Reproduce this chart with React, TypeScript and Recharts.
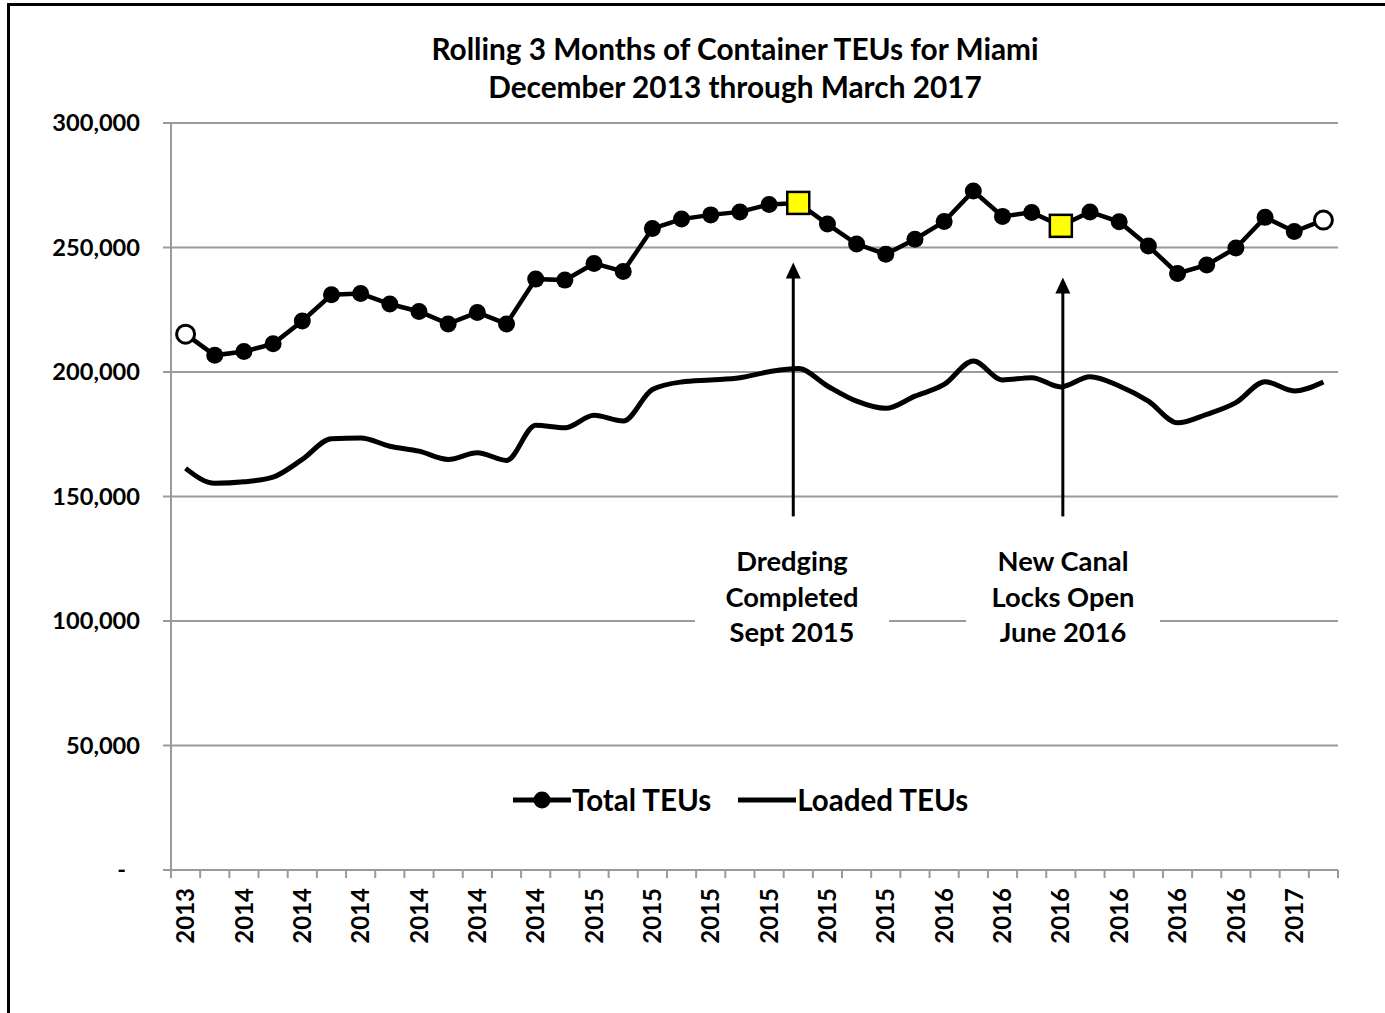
import { LineChart, Line, XAxis, YAxis, CartesianGrid, Legend, ReferenceLine } from "recharts";

// rolling 3-month periods, Dec 2013 .. Mar 2017
const months = [
  "Dec 2013", "Jan 2014", "Feb 2014", "Mar 2014", "Apr 2014", "May 2014", "Jun 2014", "Jul 2014",
  "Aug 2014", "Sep 2014", "Oct 2014", "Nov 2014", "Dec 2014", "Jan 2015", "Feb 2015", "Mar 2015",
  "Apr 2015", "May 2015", "Jun 2015", "Jul 2015", "Aug 2015", "Sep 2015", "Oct 2015", "Nov 2015",
  "Dec 2015", "Jan 2016", "Feb 2016", "Mar 2016", "Apr 2016", "May 2016", "Jun 2016", "Jul 2016",
  "Aug 2016", "Sep 2016", "Oct 2016", "Nov 2016", "Dec 2016", "Jan 2017", "Feb 2017", "Mar 2017",
];

const totalTeus = [
  215200, 206700, 208200, 211300, 220500, 231000, 231500, 227300,
  224300, 219300, 223900, 219300, 237300, 236900, 243600, 240400,
  257600, 261400, 263100, 264300, 267300, 267900, 259400, 251400,
  247300, 253300, 260400, 272700, 262500, 264100, 258700, 264300,
  260300, 250600, 239600, 243000, 249800, 262100, 256400, 261000,
];

const loadedTeus = [
  161300, 155300, 155900, 157800, 164900, 173200, 173500, 170200,
  168200, 164900, 167600, 164500, 178600, 177600, 182600, 180300,
  193000, 196000, 196800, 197700, 200100, 201400, 194400, 188300,
  185400, 190300, 195000, 204400, 196800, 197700, 194000, 198100,
  194400, 188300, 179600, 183000, 187700, 196100, 192400, 196000,
];

const yTicks = [0, 50000, 100000, 150000, 200000, 250000, 300000];

// marker highlights (indices into months)
const openMarkers = [0, 39];
const squareMarkers = [21, 30];

// annotation arrows
const arrowMonths = ["Sep 2015", "Jun 2016"];
const arrowBase = 142000;
const arrowTips = [244000, 238000];

const data = months.map((m, i) => ({ month: m, total: totalTeus[i], loaded: loadedTeus[i] }));

const FONT = "Lato, 'Open Sans', sans-serif";
const GRID = "#9a9a9a";
const BAND = (1338 - 171) / months.length;

function XTick(props: any) {
  const { x, y, payload, index } = props;
  const axisY = y - 18;
  const left = x - BAND / 2;
  return (
    <g>
      <line x1={left} x2={left} y1={axisY} y2={axisY + 8} stroke={GRID} strokeWidth={2} />
      {index === months.length - 1 && (
        <line x1={x + BAND / 2} x2={x + BAND / 2} y1={axisY} y2={axisY + 8} stroke={GRID} strokeWidth={2} />
      )}
      {index % 2 === 0 && (
        <text
          x={x}
          y={y}
          dy="0.36em"
          textAnchor="end"
          transform={`rotate(-90 ${x} ${y})`}
          fontFamily={FONT}
          fontWeight={700}
          fontSize={24}
          fill="#000"
        >
          {String(payload.value).split(" ")[1]}
        </text>
      )}
    </g>
  );
}

function YTick(props: any) {
  const { x, y, payload } = props;
  const v = payload.value as number;
  return (
    <text
      x={v === 0 ? x - 14 : x}
      y={y}
      dy="0.36em"
      textAnchor="end"
      fontFamily={FONT}
      fontWeight={700}
      fontSize={23.6}
      fill="#000"
    >
      {v === 0 ? "-" : v.toLocaleString("en-US")}
    </text>
  );
}

function TotalDot(p: any) {
  const { cx, cy, index } = p;
  if (squareMarkers.includes(index)) {
    return <rect key={`d${index}`} x={cx - 11} y={cy - 11} width={22} height={22} fill="#ffff00" stroke="#000" strokeWidth={2.5} />;
  }
  if (openMarkers.includes(index)) {
    return <circle key={`d${index}`} cx={cx} cy={cy} r={9} fill="#fff" stroke="#000" strokeWidth={3} />;
  }
  return <circle key={`d${index}`} cx={cx} cy={cy} r={8.5} fill="#000" />;
}

const arrowShape = (dx: number) => (p: any) => {
  const x = p.x1 + dx;
  const top = Math.min(p.y1, p.y2);
  const bottom = Math.max(p.y1, p.y2);
  return (
    <g>
      <line x1={x} x2={x} y1={bottom} y2={top + 14} stroke="#000" strokeWidth={3} />
      <polygon points={`${x},${top} ${x - 7.5},${top + 16} ${x + 7.5},${top + 16}`} fill="#000" />
    </g>
  );
};

function LegendContent() {
  const txt = { fontFamily: FONT, fontWeight: 700, fontSize: 29.5, color: "#000", lineHeight: "32px" };
  return (
    <div style={{ display: "flex", alignItems: "center" }}>
      <svg width={58} height={20}>
        <line x1={0} x2={58} y1={10} y2={10} stroke="#000" strokeWidth={5} />
        <circle cx={29} cy={10} r={8.5} fill="#000" />
      </svg>
      <span style={{ ...txt, marginLeft: 1, marginRight: 27 }}>Total TEUs</span>
      <svg width={58} height={20}>
        <line x1={0} x2={58} y1={10} y2={10} stroke="#000" strokeWidth={5} />
      </svg>
      <span style={{ ...txt, marginLeft: 1 }}>Loaded TEUs</span>
    </div>
  );
}

const noteStyle = {
  position: "absolute" as const,
  top: 543,
  width: 194,
  background: "#fff",
  textAlign: "center" as const,
  fontFamily: FONT,
  fontWeight: 700,
  fontSize: 27.3,
  lineHeight: "35.5px",
  color: "#000",
};

export default function App() {
  return (
    <div style={{ position: "absolute", left: 0, top: 0, width: 1385, height: 1013, background: "#fff", overflow: "hidden" }}>
      <div style={{ position: "absolute", left: 7, top: 3, width: 1400, height: 1030, border: "3px solid #000" }} />
      <div style={{ position: "absolute", left: 0, top: 0 }}>
        <LineChart width={1385} height={1013} data={data} margin={{ top: 123, right: 47, left: 0, bottom: 43 }}>
          <CartesianGrid vertical={false} stroke={GRID} strokeWidth={2} />
          <XAxis
            dataKey="month"
            interval={0}
            height={100}
            tickSize={8}
            tickMargin={10}
            tickLine={false}
            padding={{ left: BAND / 2, right: BAND / 2 }}
            axisLine={{ stroke: GRID, strokeWidth: 2 }}
            tick={<XTick />}
          />
          <YAxis
            width={171}
            domain={[0, 300000]}
            ticks={yTicks}
            interval={0}
            tickSize={8}
            tickMargin={23}
            tickLine={{ stroke: GRID, strokeWidth: 2 }}
            axisLine={{ stroke: GRID, strokeWidth: 2 }}
            tick={<YTick />}
          />
          <Line type="monotone" dataKey="loaded" name="Loaded TEUs" stroke="#000" strokeWidth={5} dot={false} activeDot={false} isAnimationActive={false} />
          <Line type="linear" dataKey="total" name="Total TEUs" stroke="#000" strokeWidth={4.5} dot={TotalDot} activeDot={false} isAnimationActive={false} />
          <ReferenceLine segment={[{ x: arrowMonths[0], y: arrowBase }, { x: arrowMonths[0], y: arrowTips[0] }]} shape={arrowShape(-5)} />
          <ReferenceLine segment={[{ x: arrowMonths[1], y: arrowBase }, { x: arrowMonths[1], y: arrowTips[1] }]} shape={arrowShape(2)} />
          <Legend
            verticalAlign="middle"
            layout="horizontal"
            content={<LegendContent />}
            wrapperStyle={{ top: 784, left: 513, width: 520, height: 32 }}
          />
        </LineChart>
      </div>
      <div
        style={{
          position: "absolute",
          left: 0,
          top: 30,
          width: 1470,
          textAlign: "center",
          fontFamily: FONT,
          fontWeight: 700,
          fontSize: 29.8,
          lineHeight: "38px",
          color: "#000",
        }}
      >
        Rolling 3 Months of Container TEUs for Miami
        <br />
        December 2013 through March 2017
      </div>
      <div style={{ ...noteStyle, left: 695 }}>
        Dredging
        <br />
        Completed
        <br />
        Sept 2015
      </div>
      <div style={{ ...noteStyle, left: 966 }}>
        New Canal
        <br />
        Locks Open
        <br />
        June 2016
      </div>
    </div>
  );
}
